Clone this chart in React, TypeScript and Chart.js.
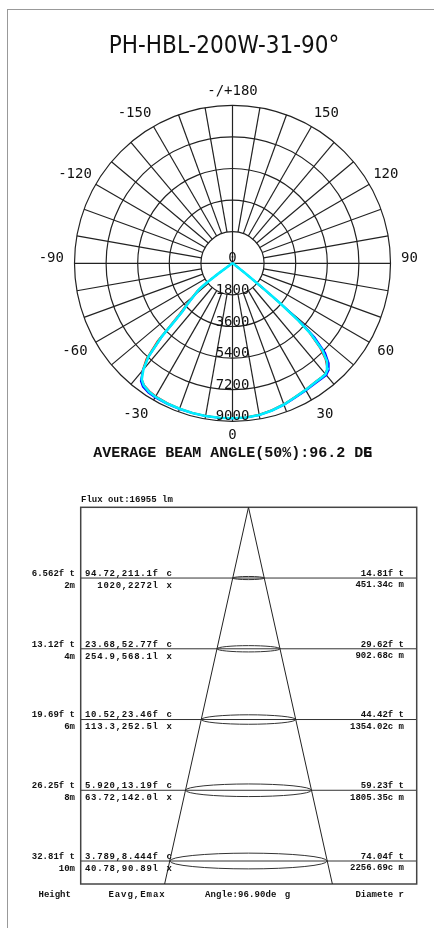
import React, { useEffect, useRef } from "react";
import { Chart, registerables } from "chart.js";

Chart.register(...registerables);

// ---------- Polar intensity data (cd) ----------
const TITLE = "PH-HBL-200W-31-90°";
const ANGLES = [-90, -70, -60, -56, -54, -53, -52, -50, -48, -46, -45, -44, -42, -40, -38, -36, -33, -30, -25, -20, -15, -10, -5, 0, 5, 10, 15, 20, 25, 30, 35, 38, 40, 42, 44, 46, 48, 49, 50, 51, 52, 54, 60, 70, 90];
const RED = [0, 20, 90, 200, 1100, 2100, 2550, 3000, 3550, 4350, 5100, 6150, 7350, 8000, 8380, 8560, 8680, 8740, 8780, 8800, 8810, 8820, 8820, 8820, 8800, 8740, 8650, 8530, 8400, 8300, 8230, 8220, 8210, 8060, 7620, 6900, 5850, 4900, 3400, 1900, 850, 280, 70, 20, 0];
const GREEN = [0, 20, 85, 170, 1050, 2050, 2450, 2900, 3450, 4100, 4850, 5950, 7250, 7950, 8420, 8600, 8720, 8770, 8800, 8815, 8825, 8830, 8830, 8830, 8815, 8760, 8670, 8550, 8410, 8320, 8250, 8240, 8230, 8080, 7700, 7050, 5950, 4950, 3450, 1950, 880, 290, 75, 20, 0];
const BLUE = [0, 20, 80, 160, 950, 1950, 2350, 2800, 3350, 3950, 4600, 5700, 7100, 7950, 8500, 8700, 8800, 8830, 8840, 8840, 8840, 8840, 8840, 8840, 8830, 8790, 8700, 8590, 8460, 8380, 8320, 8320, 8330, 8200, 7900, 7350, 6300, 5350, 3800, 2200, 1000, 320, 85, 20, 0];
const CYAN = [0, 20, 80, 150, 1000, 2000, 2400, 2850, 3400, 4000, 4700, 5800, 7150, 7900, 8400, 8600, 8730, 8780, 8810, 8820, 8830, 8830, 8830, 8830, 8820, 8770, 8680, 8560, 8420, 8330, 8260, 8250, 8240, 8100, 7750, 7100, 6000, 5000, 3500, 2000, 900, 300, 80, 20, 0];
const RADIAL_TICKS = [0, 1800, 3600, 5400, 7200, 9000];
const ANGLE_LABELS = [180, -150, 150, -120, 120, -90, 90, -60, 60, -30, 30, 0];
const BEAM_ANGLE_AVG = 96.2;

// ---------- Illuminance cone data ----------
const FLUX_LM = 16955;
const CONE_ANGLE = 96.9;
const HEIGHTS_M = [2, 4, 6, 8, 10];
const HEIGHTS_FT = [6.562, 13.12, 19.69, 26.25, 32.81];
const EAVG_FC = [94.72, 23.68, 10.52, 5.92, 3.789];
const EMAX_FC = [211.1, 52.77, 23.46, 13.19, 8.444];
const EAVG_LX = [1020, 254.9, 113.3, 63.72, 40.78];
const EMAX_LX = [2272, 568.1, 252.5, 142.0, 90.89];
const DIAM_FT = [14.81, 29.62, 44.42, 59.23, 74.04];
const DIAM_CM = [451.34, 902.68, 1354.02, 1805.35, 2256.69];
const Y_MAX = 10.65;

const MONO = "'Liberation Mono', 'Courier New', monospace";
const SMONO = "'DejaVu Sans Mono', monospace";

function txt(ctx: CanvasRenderingContext2D, s: string, x: number, y: number, font: string, align: CanvasTextAlign = "center", spacing = 0) {
  ctx.font = font;
  ctx.textAlign = align;
  ctx.textBaseline = "middle";
  (ctx as any).letterSpacing = spacing + "px";
  ctx.fillText(s, x + (align === "right" ? spacing : 0), y);
  (ctx as any).letterSpacing = "0px";
}

const polarPlugin = {
  id: "polarGrid",
  beforeDatasetsDraw(chart: any) {
    const { ctx, scales } = chart;
    const x = scales.x, y = scales.y;
    const cx = x.getPixelForValue(0), cy = y.getPixelForValue(0);
    const k = (x.getPixelForValue(9000) - cx) / 9000;
    const rMax = RADIAL_TICKS[RADIAL_TICKS.length - 1] * k;
    const rIn = RADIAL_TICKS[1] * k;
    ctx.save();
    ctx.strokeStyle = "#222";
    ctx.lineWidth = 1.2;
    for (const t of RADIAL_TICKS.slice(1)) {
      ctx.beginPath();
      ctx.arc(cx, cy, t * k, 0, Math.PI * 2);
      ctx.stroke();
    }
    for (let a = 0; a < 360; a += 10) {
      const r0 = a % 90 === 0 ? 0 : rIn;
      const rad = (a * Math.PI) / 180;
      ctx.beginPath();
      ctx.moveTo(cx + r0 * Math.sin(rad), cy + r0 * Math.cos(rad));
      ctx.lineTo(cx + rMax * Math.sin(rad), cy + rMax * Math.cos(rad));
      ctx.stroke();
    }
    ctx.restore();
  },
  afterDraw(chart: any) {
    const { ctx, scales } = chart;
    const x = scales.x, y = scales.y;
    const cx = x.getPixelForValue(0), cy = y.getPixelForValue(0);
    const k = (x.getPixelForValue(9000) - cx) / 9000;
    ctx.save();
    ctx.fillStyle = "#111";
    ctx.font = "24px 'Liberation Sans Narrow', 'DejaVu Sans Condensed', sans-serif";
    ctx.textAlign = "center";
    ctx.textBaseline = "alphabetic";
    ctx.fillText(TITLE, 224, 53);
    const f14 = `14px ${SMONO}`;
    ctx.font = f14;
    const minusW = ctx.measureText("-").width;
    for (const a of ANGLE_LABELS) {
      const s = a === 180 ? "-/+180" : String(a);
      const aa = Math.abs(a);
      const r = aa % 180 === 0 ? 172 : 177;
      let eff = a;
      if (aa === 30) eff = Math.sign(a) * 31.5;
      if (aa === 150) eff = Math.sign(a) * 148;
      const rad = (eff * Math.PI) / 180;
      let px = cx + r * Math.sin(rad);
      const py = cy + r * Math.cos(rad) + (aa === 90 ? -5 : 0);
      if (a < 0) px -= minusW / 2;
      txt(ctx, s, px, py, f14);
    }
    for (const t of RADIAL_TICKS) {
      txt(ctx, String(t), cx, cy + t * k - (t === 0 ? 5 : 4.5), f14);
    }
    const fb = `bold 15px ${MONO}`;
    ctx.font = fb;
    const cw = ctx.measureText("A").width;
    const s = `AVERAGE BEAM ANGLE(50%):${BEAM_ANGLE_AVG} DE`;
    txt(ctx, s, 93.3, 453.5, fb, "left");
    txt(ctx, "G", 93.3 + (s.length - 1) * cw, 453.5, fb, "left");
    ctx.restore();
  },
};

const conePlugin = {
  id: "cone",
  beforeDatasetsDraw(chart: any) {
    const { ctx, chartArea: a, scales } = chart;
    const x = scales.x, y = scales.y;
    const cx = x.getPixelForValue(0);
    ctx.save();
    ctx.strokeStyle = "#333";
    ctx.lineWidth = 1;
    HEIGHTS_M.forEach((h, i) => {
      const py = y.getPixelForValue(h);
      ctx.beginPath();
      ctx.moveTo(a.left, py);
      ctx.lineTo(a.right, py);
      ctx.stroke();
      const rx = x.getPixelForValue(DIAM_CM[i] / 200) - cx;
      ctx.beginPath();
      ctx.ellipse(cx, py, rx, rx * 0.1, 0, 0, Math.PI * 2);
      ctx.stroke();
    });
    ctx.lineWidth = 1.5;
    ctx.strokeStyle = "#444";
    ctx.strokeRect(a.left, a.top, a.right - a.left, a.bottom - a.top);
    ctx.restore();
  },
  afterDraw(chart: any) {
    const { ctx, chartArea: a, scales } = chart;
    const y = scales.y;
    const f9 = `bold 9px ${MONO}`;
    ctx.save();
    ctx.fillStyle = "#111";
    txt(ctx, `Flux out:${FLUX_LM} lm`, 81, a.top - 7.3, f9, "left");
    HEIGHTS_M.forEach((h, i) => {
      const py = y.getPixelForValue(h);
      txt(ctx, `${HEIGHTS_FT[i]}f t`, 75, py - 4.5, f9, "right");
      txt(ctx, `${h}m`, 75, py + 7.5, f9, "right");
      txt(ctx, `${EAVG_FC[i].toPrecision(4)},${EMAX_FC[i].toPrecision(4)}f`, 158, py - 4.5, f9, "right", 0.75);
      txt(ctx, "c", 169.3, py - 4.5, f9);
      txt(ctx, `${EAVG_LX[i].toPrecision(4)},${EMAX_LX[i].toPrecision(4)}l`, 158, py + 7.5, f9, "right", 0.75);
      txt(ctx, "x", 169.3, py + 7.5, f9);
      txt(ctx, `${DIAM_FT[i].toFixed(2)}f t`, 404, py - 4.5, f9, "right");
      txt(ctx, `${DIAM_CM[i].toFixed(2)}c m`, 404, py + 7, f9, "right");
    });
    const by = a.bottom + 11;
    txt(ctx, "Height", 54.7, by, f9);
    txt(ctx, "Eavg,Emax", 137, by, f9, "center", 0.95);
    txt(ctx, `Angle:${CONE_ANGLE.toFixed(2)}de`, 205, by, f9, "left", 0.1);
    txt(ctx, "g", 287.5, by, f9);
    txt(ctx, "Diamete r", 404, by, f9, "right");
    ctx.restore();
  },
};

function polarDataset(vals: number[], color: string, width: number) {
  return {
    data: ANGLES.map((ang, i) => {
      const r = (ang * Math.PI) / 180;
      return { x: vals[i] * Math.sin(r), y: -vals[i] * Math.cos(r) };
    }),
    showLine: true,
    borderColor: color,
    backgroundColor: color,
    borderWidth: width,
    pointRadius: 0,
    fill: false,
    tension: 0,
  };
}

export default function App() {
  const ref1 = useRef<HTMLCanvasElement>(null);
  const ref2 = useRef<HTMLCanvasElement>(null);

  useEffect(() => {
    // Chart.js paints the first dataset on top, so cyan is listed first.
    const c1 = new Chart(ref1.current as HTMLCanvasElement, {
      type: "scatter",
      data: {
        datasets: [
          polarDataset(CYAN, "#00eeff", 2.6),
          polarDataset(BLUE, "#0000ff", 1.6),
          polarDataset(GREEN, "#00e000", 1.5),
          polarDataset(RED, "#ff0000", 1.5),
        ] as any,
      },
      options: {
        animation: false,
        responsive: false,
        maintainAspectRatio: false,
        events: [],
        layout: { padding: { left: 74.5, right: 43.5, top: 105.3, bottom: 48.7 } },
        scales: {
          x: { type: "linear", min: -9000, max: 9000, display: false },
          y: { type: "linear", min: -9000, max: 9000, display: false },
        },
        plugins: { legend: { display: false }, tooltip: { enabled: false } },
      },
      plugins: [polarPlugin],
    });

    const half = Math.tan(((CONE_ANGLE / 2) * Math.PI) / 180) * Y_MAX;
    const c2 = new Chart(ref2.current as HTMLCanvasElement, {
      type: "scatter",
      data: {
        datasets: [
          {
            data: [
              { x: -half, y: Y_MAX },
              { x: 0, y: 0 },
              { x: half, y: Y_MAX },
            ],
            showLine: true,
            borderColor: "#222",
            borderWidth: 1,
            pointRadius: 0,
            tension: 0,
          },
        ] as any,
      },
      options: {
        animation: false,
        responsive: false,
        maintainAspectRatio: false,
        events: [],
        layout: { padding: { left: 80.7, right: 17.3, top: 37.3, bottom: 44 } },
        scales: {
          x: { type: "linear", min: -24.04, max: 24.1, display: false },
          y: { type: "linear", min: 0, max: Y_MAX, reverse: true, display: false },
        },
        plugins: { legend: { display: false }, tooltip: { enabled: false } },
      },
      plugins: [conePlugin],
    });

    return () => {
      c1.destroy();
      c2.destroy();
    };
  }, []);

  return (
    <div>
      <div
        style={{
          position: "absolute",
          left: 7,
          top: 9,
          width: 427,
          height: 919,
          boxSizing: "border-box",
          borderLeft: "1px solid #999",
          borderTop: "1px solid #999",
        }}
      />
      <canvas ref={ref1} width={434} height={470} style={{ position: "absolute", left: 0, top: 0 }} />
      <canvas ref={ref2} width={434} height={458} style={{ position: "absolute", left: 0, top: 470 }} />
    </div>
  );
}
